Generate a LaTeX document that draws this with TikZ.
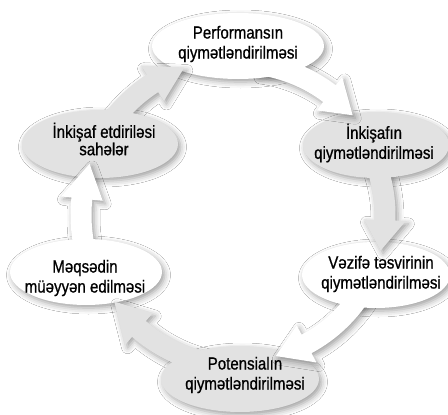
\documentclass[tikz,border=0pt]{standalone}
\usepackage{fontspec}
\setmainfont[FakeStretch=0.86,FakeBold=0.8]{Liberation Sans}
\usetikzlibrary{shapes.geometric,shadows.blur}
\definecolor{lgrey}{HTML}{E2E2E2}
\tikzset{
  shad/.style={blur shadow={shadow xshift=2.5pt, shadow yshift=-3pt, shadow blur radius=6pt, shadow opacity=38}},
  ell/.style={ellipse, inner sep=0pt, draw=none},
  txt/.style={align=center, inner sep=0pt, font=\fontsize{17.5}{20}\selectfont},
  band/.style n args={4}{insert path={
    ([shift={(#2:#1-10.5)}]c) arc[start angle=#2, end angle=#3, radius=#1-10.5]
    -- ([shift={(#3:#1-21)}]c) -- ([shift={(#4:#1)}]c) -- ([shift={(#3:#1+21)}]c)
    -- ([shift={(#3:#1+10.5)}]c) arc[start angle=#3, end angle=#2, radius=#1+10.5] -- cycle}}
}
\begin{document}
\begin{tikzpicture}[x=1pt,y=-1pt]
\useasboundingbox[fill=white] (0,0) rectangle (448,415);
\coordinate (c) at (238,215);
% arrow shadows
\path[shad, band={157}{-148}{-123}{-110}];
\path[shad, band={152}{-82}{-53}{-41}];
\path[shad, band={147}{-25}{2}{14}];
\path[shad, band={146}{30}{62}{75}];
\path[shad, band={151}{100}{131}{145}];
\path[shad, band={157}{165}{186}{199}];
% ellipses
\node[ell, shad, fill=white, minimum width=172pt, minimum height=66pt] (e1) at (238,46) {};
\node[ell, shad, fill=lgrey, minimum width=146pt, minimum height=66pt] (e2) at (376,145) {};
\node[ell, shad, fill=white, minimum width=148pt, minimum height=66pt] (e3) at (376,275) {};
\node[ell, shad, fill=lgrey, minimum width=158pt, minimum height=66pt] (e4) at (240,379) {};
\node[ell, shad, fill=white, minimum width=152pt, minimum height=66pt] (e5) at (86,272) {};
\node[ell, shad, fill=lgrey, minimum width=156pt, minimum height=68pt] (e6) at (100,144) {};
% tip shadows on the target ellipses
\begin{scope}\clip (e1.center) ellipse[x radius=86, y radius=33];
\path[shad, band={157}{-148}{-123}{-110}];\end{scope}
\begin{scope}\clip (e2.center) ellipse[x radius=73, y radius=33];
\path[shad, band={152}{-82}{-53}{-41}];\end{scope}
\begin{scope}\clip (e3.center) ellipse[x radius=74, y radius=33];
\path[shad, band={147}{-25}{2}{14}];\end{scope}
\begin{scope}\clip (e4.center) ellipse[x radius=79, y radius=33];
\path[shad, band={146}{30}{62}{75}];\end{scope}
\begin{scope}\clip (e5.center) ellipse[x radius=76, y radius=33];
\path[shad, band={151}{100}{131}{145}];\end{scope}
\begin{scope}\clip (e6.center) ellipse[x radius=78, y radius=34];
\path[shad, band={157}{165}{186}{199}];\end{scope}
% arrows
\path[fill=lgrey, band={157}{-148}{-123}{-110}];
\path[fill=white, band={152}{-82}{-53}{-41}];
\path[fill=lgrey, band={147}{-25}{2}{14}];
\path[fill=white, band={146}{30}{62}{75}];
\path[fill=lgrey, band={151}{100}{131}{145}];
\path[fill=white, band={157}{165}{186}{199}];
% texts
\node[txt] (t1) at (238,44) {Performansın\\qiymətləndirilməsi};
\node[txt] (t2) at (374,143) {İnkişafın\\qiymətləndirilməsi};
\node[txt] (t3) at (381,274) {Vəzifə təsvirinin\\qiymətləndirilməsi};
\node[txt] (t4) at (245,375) {Potensialın\\qiymətləndirilməsi};
\node[txt] (t5) at (85,278) {Məqsədin\\müəyyən edilməsi};
\node[txt, font=\fontsize{17.5}{16}\selectfont] (t6) at (104,139) {İnkişaf etdiriləsi\\sahələr};
\end{tikzpicture}
\end{document}
